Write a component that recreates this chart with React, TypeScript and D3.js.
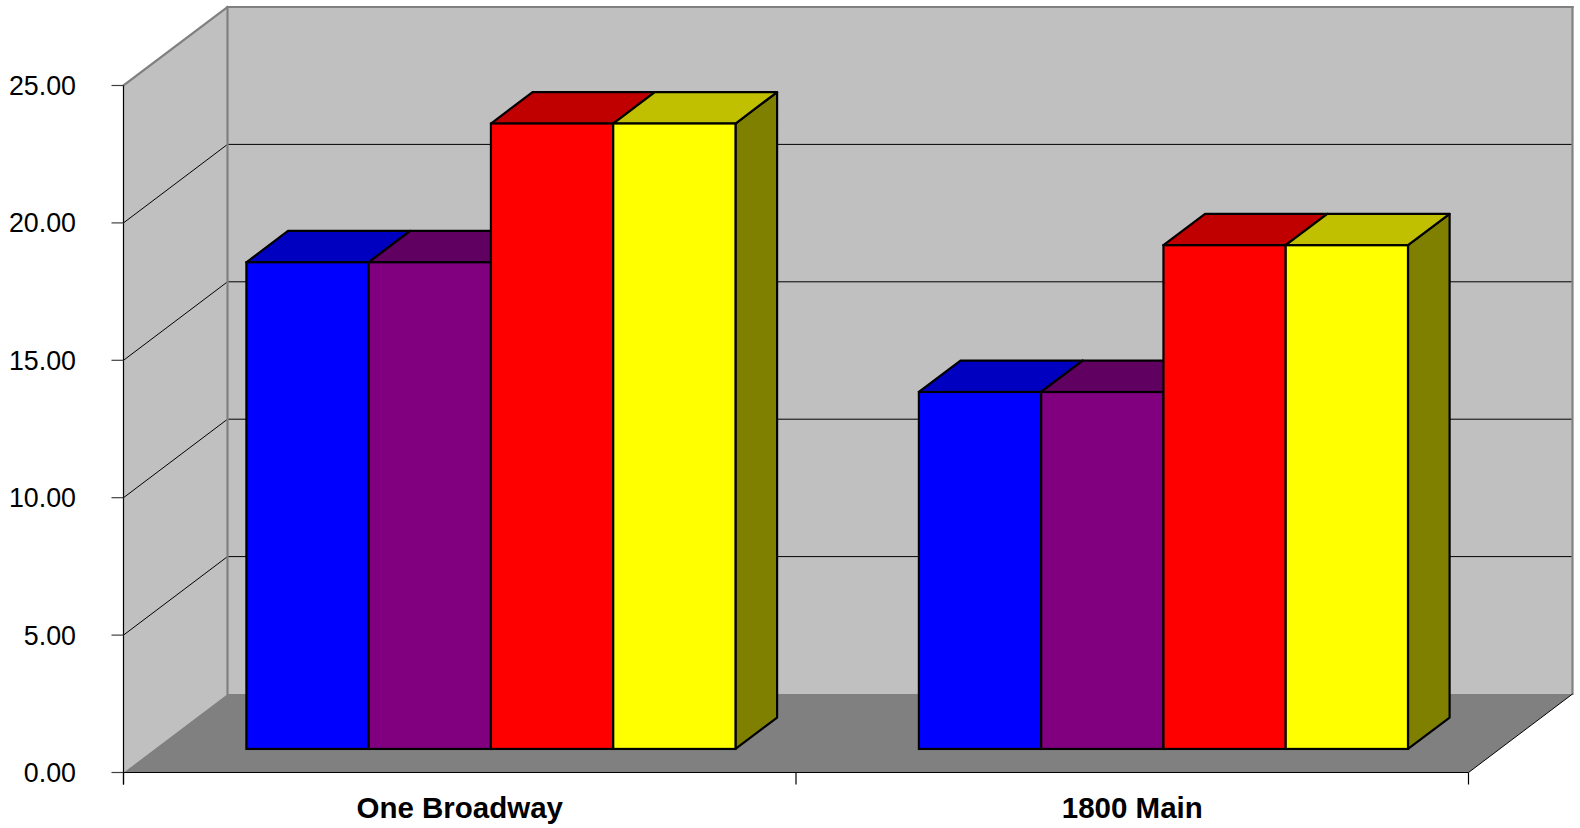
import { useEffect, useRef } from "react";
import * as d3 from "d3";

const categories = ["One Broadway", "1800 Main"];
const seriesKeys = ["s1", "s2", "s3", "s4"];
const series1 = [17.71, 12.99];
const series2 = [17.71, 12.99];
const series3 = [22.76, 18.33];
const series4 = [22.76, 18.33];
const yTicks = [0, 5, 10, 15, 20, 25];

const frontColors = ["#0000FF", "#800080", "#FF0000", "#FFFF00"];
const topColors = ["#0000C0", "#600060", "#C00000", "#C0C000"];
const sideColors = ["#0000A0", "#500050", "#A00000", "#808000"];

const W = 1580;
const H = 828;
// front plane of the 3d box
const plotLeft = 123.5;
const plotRight = 1468.5;
const floorY = 772.5;
const topY = 85.5;
// depth offset of the back wall
const depthX = 104;
const depthY = -78.5;
const barFront = 0.3;
const barBack = 0.7;
const font = "'Liberation Sans', Arial, sans-serif";

const App = () => {
  const ref = useRef<SVGSVGElement>(null);

  useEffect(() => {
    const svg = d3.select(ref.current as SVGSVGElement);
    svg.selectAll("*").remove();

    const values = [series1, series2, series3, series4];

    const x = d3.scaleBand().domain(categories).range([plotLeft, plotRight]).padding(0);
    const xs = d3
      .scaleBand()
      .domain(seriesKeys)
      .range([0, x.bandwidth()])
      .paddingInner(0)
      .paddingOuter(0.75);
    const y = d3.scaleLinear().domain([0, 25]).range([floorY, topY]);

    const L = plotLeft;
    const R = plotRight;
    const pts = (p: number[][]) => p.map((d) => d.join(",")).join(" ");

    // side wall
    svg
      .append("polygon")
      .attr(
        "points",
        pts([
          [L, floorY],
          [L, topY],
          [L + depthX, topY + depthY],
          [L + depthX, floorY + depthY],
        ])
      )
      .attr("fill", "#C0C0C0");
    // back wall
    svg
      .append("polygon")
      .attr(
        "points",
        pts([
          [L + depthX, topY + depthY],
          [R + depthX, topY + depthY],
          [R + depthX, floorY + depthY],
          [L + depthX, floorY + depthY],
        ])
      )
      .attr("fill", "#C0C0C0");
    // floor
    svg
      .append("polygon")
      .attr(
        "points",
        pts([
          [L, floorY],
          [R, floorY],
          [R + depthX, floorY + depthY],
          [L + depthX, floorY + depthY],
        ])
      )
      .attr("fill", "#808080");

    // gridlines
    svg
      .selectAll(".grid")
      .data(yTicks.filter((t) => t > 0 && t < 25))
      .enter()
      .append("polyline")
      .attr("points", (t) =>
        pts([
          [L, y(t)],
          [L + depthX, y(t) + depthY],
          [R + depthX, y(t) + depthY],
        ])
      )
      .attr("fill", "none")
      .attr("stroke", "#000")
      .attr("stroke-width", 1);

    // wall edges
    const edges = [
      [[L, topY], [L + depthX, topY + depthY]],
      [[L + depthX, topY + depthY], [R + depthX, topY + depthY]],
      [[L + depthX, topY + depthY], [L + depthX, floorY + depthY]],
      [[R + depthX, topY + depthY], [R + depthX, floorY + depthY]],
    ];
    svg
      .selectAll(".edge")
      .data(edges)
      .enter()
      .append("polyline")
      .attr("points", (d) => pts(d))
      .attr("fill", "none")
      .attr("stroke", "#808080")
      .attr("stroke-width", 2.2)
      .attr("stroke-linecap", "square");

    svg
      .append("line")
      .attr("x1", R)
      .attr("y1", floorY)
      .attr("x2", R + depthX)
      .attr("y2", floorY + depthY)
      .attr("stroke", "#000")
      .attr("stroke-width", 1);

    // bars: side, top, then front, left to right
    const g = svg.append("g");
    categories.forEach((c, ci) => {
      seriesKeys.forEach((s, si) => {
        const v = values[si][ci];
        const x0 = (x(c) as number) + (xs(s) as number) + barFront * depthX;
        const x1 = x0 + xs.bandwidth();
        const yt = y(v) + barFront * depthY;
        const yb = y(0) + barFront * depthY;
        const ddx = (barBack - barFront) * depthX;
        const ddy = (barBack - barFront) * depthY;

        g.append("polygon")
          .attr(
            "points",
            pts([
              [x1, yt],
              [x1 + ddx, yt + ddy],
              [x1 + ddx, yb + ddy],
              [x1, yb],
            ])
          )
          .attr("fill", sideColors[si])
          .attr("stroke", "#000")
          .attr("stroke-width", 2.2)
          .attr("stroke-linejoin", "round");
        g.append("polygon")
          .attr(
            "points",
            pts([
              [x0, yt],
              [x1, yt],
              [x1 + ddx, yt + ddy],
              [x0 + ddx, yt + ddy],
            ])
          )
          .attr("fill", topColors[si])
          .attr("stroke", "#000")
          .attr("stroke-width", 2.2)
          .attr("stroke-linejoin", "round");
        g.append("rect")
          .attr("x", x0)
          .attr("y", yt)
          .attr("width", x1 - x0)
          .attr("height", yb - yt)
          .attr("fill", frontColors[si])
          .attr("stroke", "#000")
          .attr("stroke-width", 2.2);
      });
    });

    // axes
    svg
      .append("line")
      .attr("x1", L)
      .attr("y1", topY)
      .attr("x2", L)
      .attr("y2", floorY + 12)
      .attr("stroke", "#000")
      .attr("stroke-width", 1.2);
    svg
      .append("line")
      .attr("x1", L)
      .attr("y1", floorY)
      .attr("x2", R)
      .attr("y2", floorY)
      .attr("stroke", "#000")
      .attr("stroke-width", 1.2);

    svg
      .selectAll(".ytick")
      .data(yTicks)
      .enter()
      .append("line")
      .attr("x1", L - 12)
      .attr("x2", L)
      .attr("y1", (t) => y(t))
      .attr("y2", (t) => y(t))
      .attr("stroke", "#404040")
      .attr("stroke-width", 1.2);

    svg
      .selectAll(".xtick")
      .data([L, ...categories.map((c) => (x(c) as number) + x.bandwidth())])
      .enter()
      .append("line")
      .attr("x1", (d) => d)
      .attr("x2", (d) => d)
      .attr("y1", floorY)
      .attr("y2", floorY + 12)
      .attr("stroke", "#000")
      .attr("stroke-width", 1.2);

    svg
      .selectAll(".ylabel")
      .data(yTicks)
      .enter()
      .append("text")
      .attr("x", 76)
      .attr("y", (t) => y(t) + 9.5)
      .attr("text-anchor", "end")
      .style("font-family", font)
      .style("font-size", "26.8px")
      .attr("fill", "#000")
      .text((t) => d3.format(".2f")(t));

    svg
      .selectAll(".xlabel")
      .data(categories)
      .enter()
      .append("text")
      .attr("x", (c) => (x(c) as number) + x.bandwidth() / 2)
      .attr("y", 818)
      .attr("text-anchor", "middle")
      .style("font-family", font)
      .style("font-size", "29.5px")
      .style("font-weight", 700)
      .attr("fill", "#000")
      .text((c) => c);
  }, []);

  return (
    <svg
      ref={ref}
      width={W}
      height={H}
      style={{ position: "absolute", left: 0, top: 0, display: "block", background: "#fff" }}
    />
  );
};

export default App;
